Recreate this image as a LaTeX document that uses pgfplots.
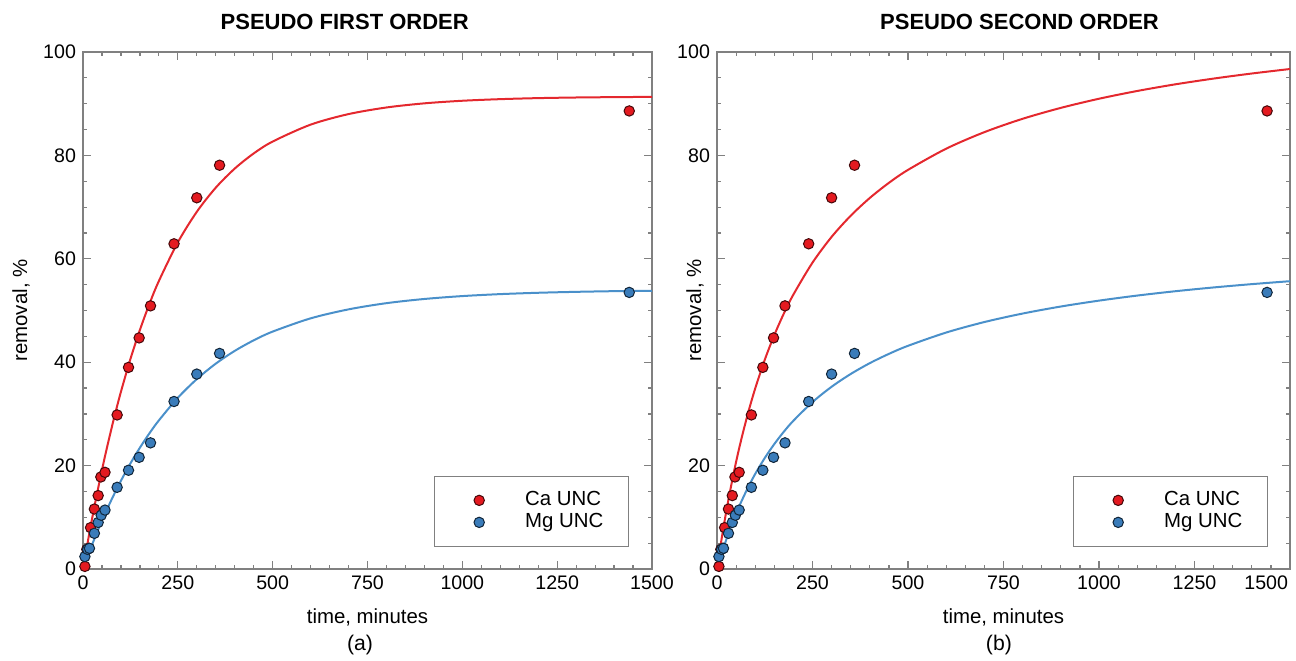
\documentclass[border=0pt]{standalone}
\usepackage{fontspec}
\setmainfont{Liberation Sans}
\usepackage{pgfplots}
\pgfplotsset{compat=1.18}
\definecolor{cared}{RGB}{228,26,32}
\definecolor{caline}{RGB}{228,40,46}
\definecolor{mgblue}{RGB}{58,124,186}
\definecolor{mgline}{RGB}{74,144,202}
\definecolor{frame}{RGB}{128,128,128}
\pgfplotsset{
  kin/.style={
    scale only axis,
    anchor=south west,
    clip mode=individual,
    height=258.5pt,
    xmin=0, xmax=1500, ymin=0, ymax=100,
    xtick={0,250,...,1500}, ytick={0,20,...,100},
    minor x tick num=4, minor y tick num=3,
    tick align=inside,
    major tick length=4pt, minor tick length=2pt,
    axis line style={draw=frame, line width=0.7pt},
    tick style={draw=frame, line width=0.6pt},
    /pgf/number format/assume math mode=true,
    /pgf/number format/1000 sep={},
    tick label style={font=\fontsize{9.8}{11}\selectfont},
    label style={font=\fontsize{10.2}{12}\selectfont},
    xlabel={time, minutes},
    ylabel={removal, \%},
    xlabel style={at={(axis description cs:0.5,-0.0928)}, anchor=center},
    title style={font=\bfseries\fontsize{11}{13}\selectfont, anchor=center},
    legend style={anchor=south east, draw=frame, line width=0.6pt,
      font=\fontsize{10.2}{12}\selectfont,
      inner xsep=12.5pt, inner ysep=7pt, row sep=1pt, column sep=13pt,
      nodes={inner sep=0pt, text height=7.5pt, text depth=2.5pt}},
    legend cell align=left,
    legend image code/.code={\path[draw=none,fill=none] (0pt,-3pt) rectangle (20pt,3pt); \draw[##1] plot coordinates {(10pt,0pt)};},
  },
  camark/.style={only marks, mark=*, mark size=2.6pt, mark options={fill=cared, draw=black!70!cared, line width=0.5pt}},
  mgmark/.style={only marks, mark=*, mark size=2.6pt, mark options={fill=mgblue, draw=black!70!mgblue, line width=0.5pt}},
}
\begin{document}
\begin{tikzpicture}
\path[use as bounding box] (0pt,0pt) rectangle (648pt,330pt);

% ---------------- (a) pseudo first order ----------------
\begin{axis}[kin, at={(41.5pt,45.5pt)}, width=284.5pt,
  title={PSEUDO FIRST ORDER},
  title style={at={(axis description cs:0.46,1.035)}},
  ylabel style={at={(axis description cs:-0.109,0.5)}, anchor=center},
  legend style={at={(axis description cs:0.9596,0.0426)}}]
\addplot[caline, line width=1pt, smooth, forget plot] coordinates {
(0,0) (10,4.20) (20,8.20) (30,12.02) (45,17.42) (60,22.46) (80,28.65) (100,34.28)
(125,40.61) (150,46.24) (175,51.25) (200,55.70) (250,63.18) (300,69.09) (350,73.76)
(400,77.45) (450,80.38) (500,82.68) (600,85.95) (700,87.99) (800,89.27) (900,90.07)
(1000,90.57) (1100,90.88) (1200,91.08) (1300,91.20) (1400,91.27) (1500,91.32)};
\addplot[mgline, line width=1pt, smooth, forget plot] coordinates {
(0,0) (10,2.01) (20,3.95) (30,5.82) (45,8.49) (60,11.01) (80,14.15) (100,17.07)
(125,20.42) (150,23.46) (175,26.23) (200,28.74) (250,33.12) (300,36.73) (350,39.72)
(400,42.19) (450,44.23) (500,45.92) (600,48.48) (700,50.22) (800,51.42) (900,52.23)
(1000,52.79) (1100,53.17) (1200,53.43) (1300,53.61) (1400,53.74) (1500,53.82)};
\addplot[camark] coordinates {
(5,0.5) (10,3.8) (15,4.0) (20,8.0) (30,11.6) (40,14.2) (47,17.8) (58,18.7)
(90,29.8) (120,39.0) (148,44.7) (178,50.9) (240,62.9) (300,71.8) (360,78.1) (1440,88.6)};
\addlegendentry{Ca UNC}
\addplot[mgmark] coordinates {
(5,2.4) (12,3.8) (17,4.0) (30,6.9) (40,9.0) (48,10.4) (58,11.4)
(90,15.8) (120,19.1) (148,21.6) (178,24.4) (240,32.4) (300,37.7) (360,41.7) (1440,53.5)};
\addlegendentry{Mg UNC}
\node[font=\fontsize{10.6}{12}\selectfont] at (axis description cs:0.487,-0.147) {(a)};
\end{axis}

% ---------------- (b) pseudo second order ----------------
\begin{axis}[kin, at={(358.5pt,45.5pt)}, width=286.5pt,
  title={PSEUDO SECOND ORDER},
  title style={at={(axis description cs:0.528,1.035)}},
  xtick={0,250,500,750,1000,1250,1500},
  xticklabels={0,250,500,750,1000,1250,\makebox[0pt][r]{1500\hspace{1pt}}},
  ytick={0,20,40,60,80,100}, yticklabels={0,20,{},{},80,100},
  ylabel style={at={(axis description cs:-0.0384,0.5)}, anchor=center},
  legend style={at={(axis description cs:0.9616,0.0426)}}]
\addplot[caline, line width=1pt, smooth, forget plot] coordinates {
(0,0) (10,4.88) (20,9.34) (30,13.45) (45,19.01) (60,23.98) (80,29.82) (100,34.92)
(125,40.46) (150,45.25) (175,49.42) (200,53.09) (250,59.26) (300,64.24) (350,68.33)
(400,71.77) (450,74.69) (500,77.20) (600,81.30) (700,84.50) (800,87.08) (900,89.19)
(1000,90.96) (1100,92.46) (1200,93.75) (1300,94.86) (1400,95.84) (1500,96.71)};
\addplot[mgline, line width=1pt, smooth, forget plot] coordinates {
(0,0) (10,2.47) (20,4.75) (30,6.88) (45,9.80) (60,12.44) (80,15.59) (100,18.39)
(125,21.47) (150,24.17) (175,26.56) (200,28.68) (250,32.29) (300,35.25) (350,37.72)
(400,39.82) (450,41.61) (500,43.17) (600,45.74) (700,47.77) (800,49.41) (900,50.77)
(1000,51.91) (1100,52.89) (1200,53.73) (1300,54.46) (1400,55.10) (1500,55.67)};
\addplot[camark] coordinates {
(5,0.5) (10,3.8) (15,4.0) (20,8.0) (30,11.6) (40,14.2) (47,17.8) (58,18.7)
(90,29.8) (120,39.0) (148,44.7) (178,50.9) (240,62.9) (300,71.8) (360,78.1) (1440,88.6)};
\addlegendentry{Ca UNC}
\addplot[mgmark] coordinates {
(5,2.4) (12,3.8) (17,4.0) (30,6.9) (40,9.0) (48,10.4) (58,11.4)
(90,15.8) (120,19.1) (148,21.6) (178,24.4) (240,32.4) (300,37.7) (360,41.7) (1440,53.5)};
\addlegendentry{Mg UNC}
\node[font=\fontsize{10.6}{12}\selectfont] at (axis description cs:0.492,-0.147) {(b)};
\end{axis}
\end{tikzpicture}
\end{document}
